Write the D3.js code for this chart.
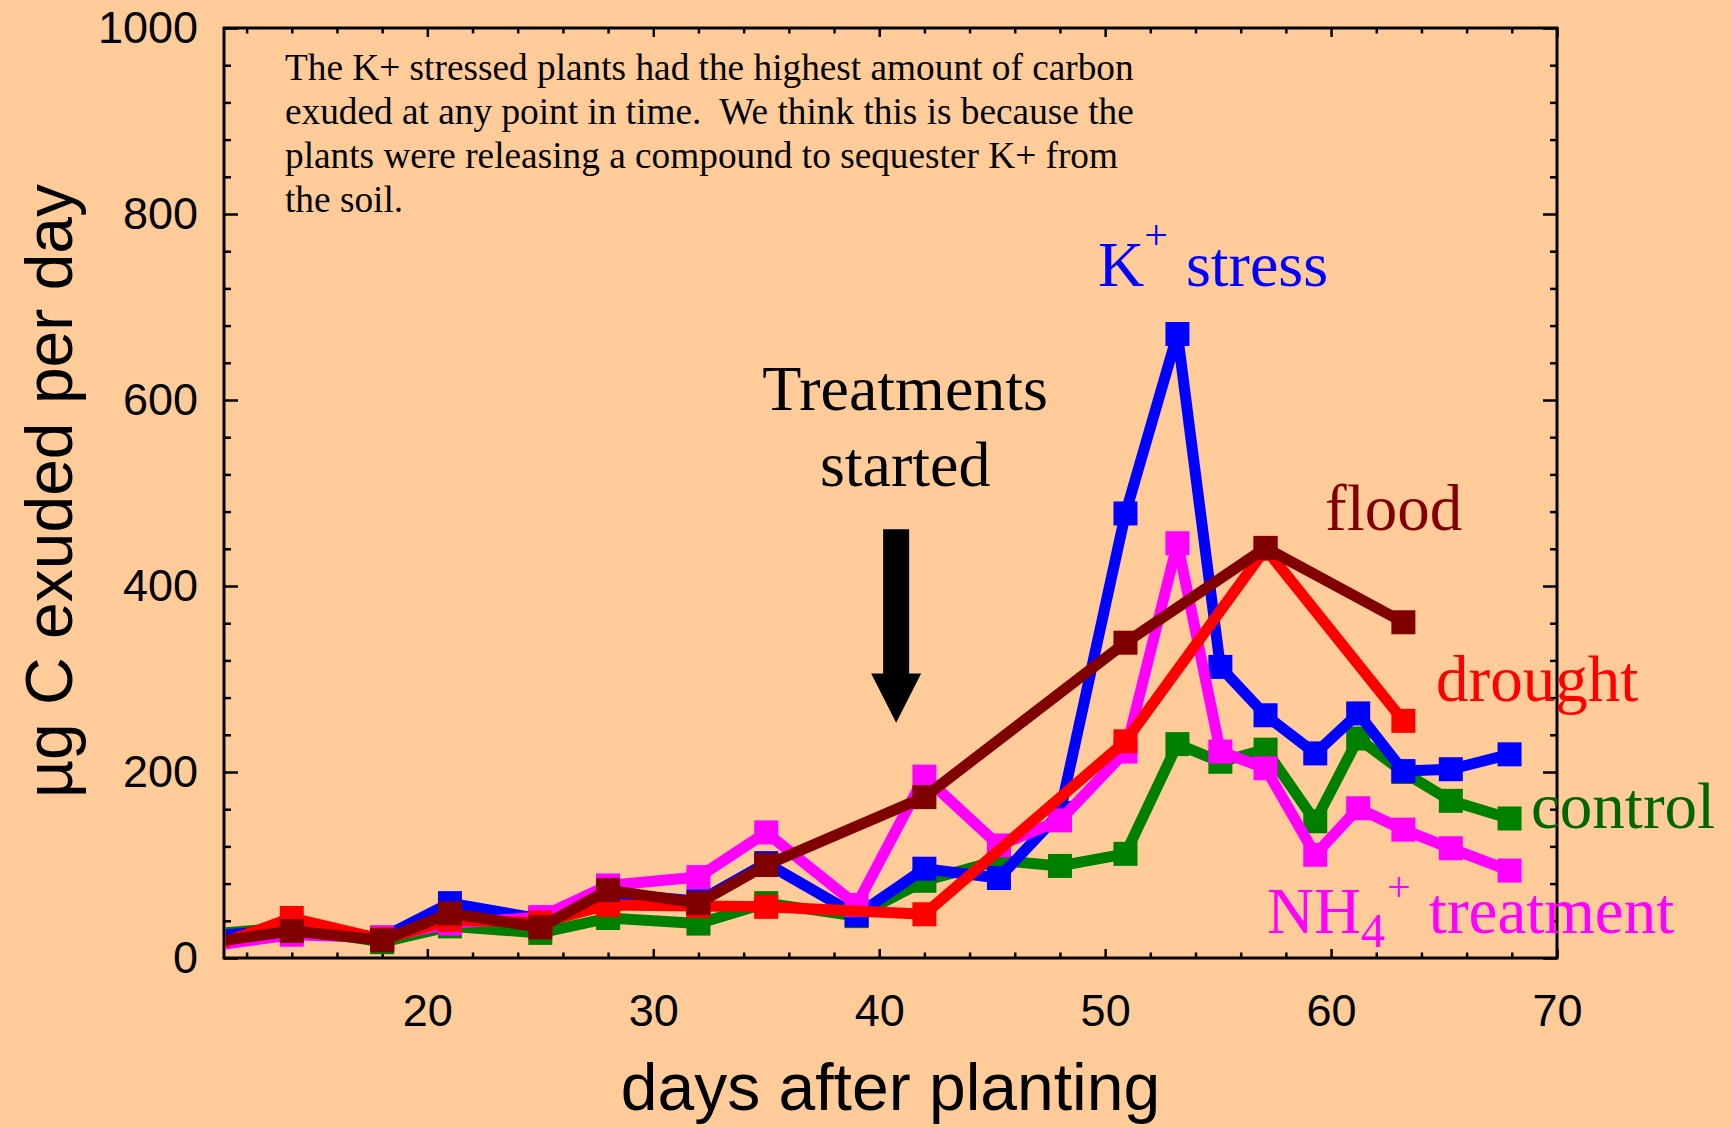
<!DOCTYPE html>
<html>
<head>
<meta charset="utf-8">
<script src="https://cdn.jsdelivr.net/npm/d3@7"></script>
<style>
  body { margin: 0; background: #FFCC99; }
  svg { display: block; }
  .tick text { font-family: "Liberation Sans", Arial, sans-serif; font-size: 45px; fill: #000; }
  .serif { font-family: "Liberation Serif", "Times New Roman", serif; }
</style>
</head>
<body>
<div id="vis"></div>
<script>
// sampling days (K+, NH4+ and control were sampled more often)
var daysAll = [11, 14, 18, 21, 25, 28, 32, 35, 39, 42, 45.3, 48, 50.9, 53.2, 55.1, 57.1, 59.3, 61.2, 63.2, 65.3, 67.9];
var daysFew = [11, 14, 18, 21, 25, 28, 32, 35, 42, 50.9, 57.1, 63.2];

// ug C exuded per day
var control = [27, 33, 17, 34, 27, 43, 37, 59, 45, 83, 105, 99, 112, 230, 211, 224, 147, 236, 200, 169, 150];
var kStress = [25, 30, 22, 59, 42, 70, 61, 102, 46, 96, 86, 156, 478, 671, 313, 261, 220, 263, 201, 203, 219];
var nh4     = [15, 25, 22, 37, 44, 78, 87, 135, 57, 195, 121, 148, 222, 446, 222, 204, 111, 161, 138, 118, 94];
var drought = [17, 43, 20, 41, 38, 57, 56, 55, 47, 233, 440, 255];
var flood   = [19, 29, 19, 48, 33, 73, 59, 100, 173, 339, 441, 361];

var xTicks = [20, 30, 40, 50, 60, 70];
var yTicks = [0, 200, 400, 600, 800, 1000];

var noteLines = [
    'The K+ stressed plants had the highest amount of carbon',
    'exuded at any point in time.  We think this is because the',
    'plants were releasing a compound to sequester K+ from',
    'the soil.'
];

// arrow marking the start of treatments (day, top / head / tip values)
var arrowDay = 40.75, arrowTop = 461, arrowHead = 306, arrowTip = 253;

var width = 1731, height = 1127;
var margin = { left: 224, right: 174, top: 28, bottom: 169 };
var drawWidth = width - margin.left - margin.right,
    drawHeight = height - margin.top - margin.bottom;

var svg = d3.select('#vis').append('svg')
            .attr('width', width)
            .attr('height', height);

svg.append('rect').attr('width', width).attr('height', height).attr('fill', '#FFCC99');

var xScale = d3.scaleLinear().domain([11, 70]).range([margin.left, margin.left + drawWidth]);
var yScale = d3.scaleLinear().domain([0, 1000]).range([margin.top + drawHeight, margin.top]);

// minor + major ticks, all pointing inward
var xMinor = d3.range(12, 70, 2).filter((d) => d % 10 != 0);
var yMinor = d3.range(40, 1000, 40).filter((d) => d % 200 != 0);

var axisStyle = (g) => {
    g.select('.domain').remove();
    g.selectAll('.tick line').attr('stroke', '#000').attr('stroke-width', 2.5);
};

svg.append('g').attr('transform', `translate(0, ${margin.top + drawHeight})`)
   .call(d3.axisBottom(xScale).tickValues(xTicks).tickSizeInner(-9).tickSizeOuter(0).tickPadding(36))
   .call(axisStyle);
svg.append('g').attr('transform', `translate(0, ${margin.top + drawHeight})`)
   .call(d3.axisBottom(xScale).tickValues(xMinor).tickSize(-5.5).tickFormat(''))
   .call(axisStyle);
svg.append('g').attr('transform', `translate(0, ${margin.top})`)
   .call(d3.axisTop(xScale).tickValues(xTicks).tickSize(-9).tickFormat(''))
   .call(axisStyle);
svg.append('g').attr('transform', `translate(0, ${margin.top})`)
   .call(d3.axisTop(xScale).tickValues(xMinor).tickSize(-5.5).tickFormat(''))
   .call(axisStyle);

svg.append('g').attr('transform', `translate(${margin.left}, 0)`)
   .call(d3.axisLeft(yScale).tickValues(yTicks).tickFormat(d3.format('d'))
           .tickSizeInner(-14).tickSizeOuter(0).tickPadding(26))
   .call(axisStyle);
svg.append('g').attr('transform', `translate(${margin.left}, 0)`)
   .call(d3.axisLeft(yScale).tickValues(yMinor).tickSize(-7).tickFormat(''))
   .call(axisStyle);
svg.append('g').attr('transform', `translate(${margin.left + drawWidth}, 0)`)
   .call(d3.axisRight(yScale).tickValues(yTicks).tickSize(-14).tickFormat(''))
   .call(axisStyle);
svg.append('g').attr('transform', `translate(${margin.left + drawWidth}, 0)`)
   .call(d3.axisRight(yScale).tickValues(yMinor).tickSize(-7).tickFormat(''))
   .call(axisStyle);

svg.append('rect')
   .attr('x', margin.left).attr('y', margin.top)
   .attr('width', drawWidth).attr('height', drawHeight)
   .attr('fill', 'none').attr('stroke', '#000').attr('stroke-width', 3);

// axis titles
svg.append('text')
   .attr('transform', `translate(${margin.left + drawWidth / 2}, 1110)`)
   .attr('text-anchor', 'middle')
   .style('font-family', '"Liberation Sans", Arial, sans-serif')
   .style('font-size', '66px')
   .text('days after planting');

svg.append('text')
   .attr('transform', `translate(72, ${margin.top + drawHeight / 2 - 2}) rotate(-90)`)
   .attr('text-anchor', 'middle')
   .style('font-family', '"Liberation Sans", Arial, sans-serif')
   .style('font-size', '66px')
   .text('\u00B5g C exuded per day');

// note in the upper left
svg.append('g').selectAll('text')
   .data(noteLines).enter()
   .append('text')
   .attr('class', 'serif')
   .attr('x', 285)
   .attr('y', (d, i) => 80 + i * 44)
   .style('font-size', '37.3px')
   .attr('xml:space', 'preserve')
   .text((d) => d);

// series, drawn bottom to top
var series = [
    { key: 'control', days: daysAll, values: control, color: '#008000' },
    { key: 'K', days: daysAll, values: kStress, color: '#0000FF' },
    { key: 'NH4', days: daysAll, values: nh4, color: '#FF00FF' },
    { key: 'drought', days: daysFew, values: drought, color: '#FF0000' },
    { key: 'flood', days: daysFew, values: flood, color: '#800000' }
];

svg.append('clipPath').attr('id', 'plotClip')
   .append('rect')
   .attr('x', margin.left + 1.5).attr('y', margin.top)
   .attr('width', drawWidth).attr('height', drawHeight);

var plot = svg.append('g').attr('clip-path', 'url(#plotClip)');

var line = d3.line().x((d) => xScale(d[0])).y((d) => yScale(d[1]));

series.forEach((s) => {
    var pts = s.days.map((d, i) => [d, s.values[i]]);
    var g = plot.append('g').attr('class', 'series-' + s.key);
    g.append('path')
     .datum(pts)
     .attr('d', line)
     .attr('fill', 'none')
     .attr('stroke', s.color)
     .attr('stroke-width', 11)
     .attr('stroke-linecap', 'round')
     .attr('stroke-linejoin', 'round');
    g.selectAll('rect')
     .data(pts.filter((d) => d[0] > 11))
     .enter().append('rect')
     .attr('x', (d) => xScale(d[0]) - 12)
     .attr('y', (d) => yScale(d[1]) - 12)
     .attr('width', 24).attr('height', 24)
     .attr('fill', s.color);
});

// treatments started arrow
var ax = xScale(arrowDay);
svg.append('polygon')
   .attr('points', [
       [ax - 13, yScale(arrowTop)], [ax + 13, yScale(arrowTop)],
       [ax + 13, yScale(arrowHead)], [ax + 25, yScale(arrowHead)],
       [ax, yScale(arrowTip)],
       [ax - 25, yScale(arrowHead)], [ax - 13, yScale(arrowHead)]
   ].map((p) => p.join(',')).join(' '))
   .attr('fill', '#000');

svg.append('text').attr('class', 'serif')
   .attr('x', xScale(41.15)).attr('y', 410)
   .attr('text-anchor', 'middle').style('font-size', '64px')
   .text('Treatments');
svg.append('text').attr('class', 'serif')
   .attr('x', xScale(41.15)).attr('y', 486)
   .attr('text-anchor', 'middle').style('font-size', '64px')
   .text('started');

// series labels
var kLab = svg.append('text').attr('class', 'serif')
   .attr('x', 1098).attr('y', 286)
   .style('font-size', '64px').attr('fill', '#0000FF');
kLab.append('tspan').text('K');
kLab.append('tspan').attr('dy', -37).style('font-size', '42px').text('+');
kLab.append('tspan').attr('dy', 37).attr('dx', 2).text(' stress');

svg.append('text').attr('class', 'serif')
   .attr('x', 1325).attr('y', 530)
   .style('font-size', '65px').attr('fill', '#800000')
   .text('flood');

svg.append('text').attr('class', 'serif')
   .attr('x', 1436).attr('y', 701)
   .style('font-size', '65px').attr('fill', '#FF0000')
   .text('drought');

svg.append('text').attr('class', 'serif')
   .attr('x', 1531).attr('y', 828)
   .style('font-size', '65px').attr('fill', '#006600')
   .text('control');

var nLab = svg.append('text').attr('class', 'serif')
   .attr('x', 1267).attr('y', 933)
   .style('font-size', '65px').attr('fill', '#FF00FF');
nLab.append('tspan').text('NH');
nLab.append('tspan').attr('dy', 14).style('font-size', '48px').text('4');
nLab.append('tspan').attr('dy', -46).attr('dx', 2).style('font-size', '42px').text('+');
nLab.append('tspan').attr('dy', 32).attr('dx', 2).text(' treatment');
</script>
</body>
</html>
